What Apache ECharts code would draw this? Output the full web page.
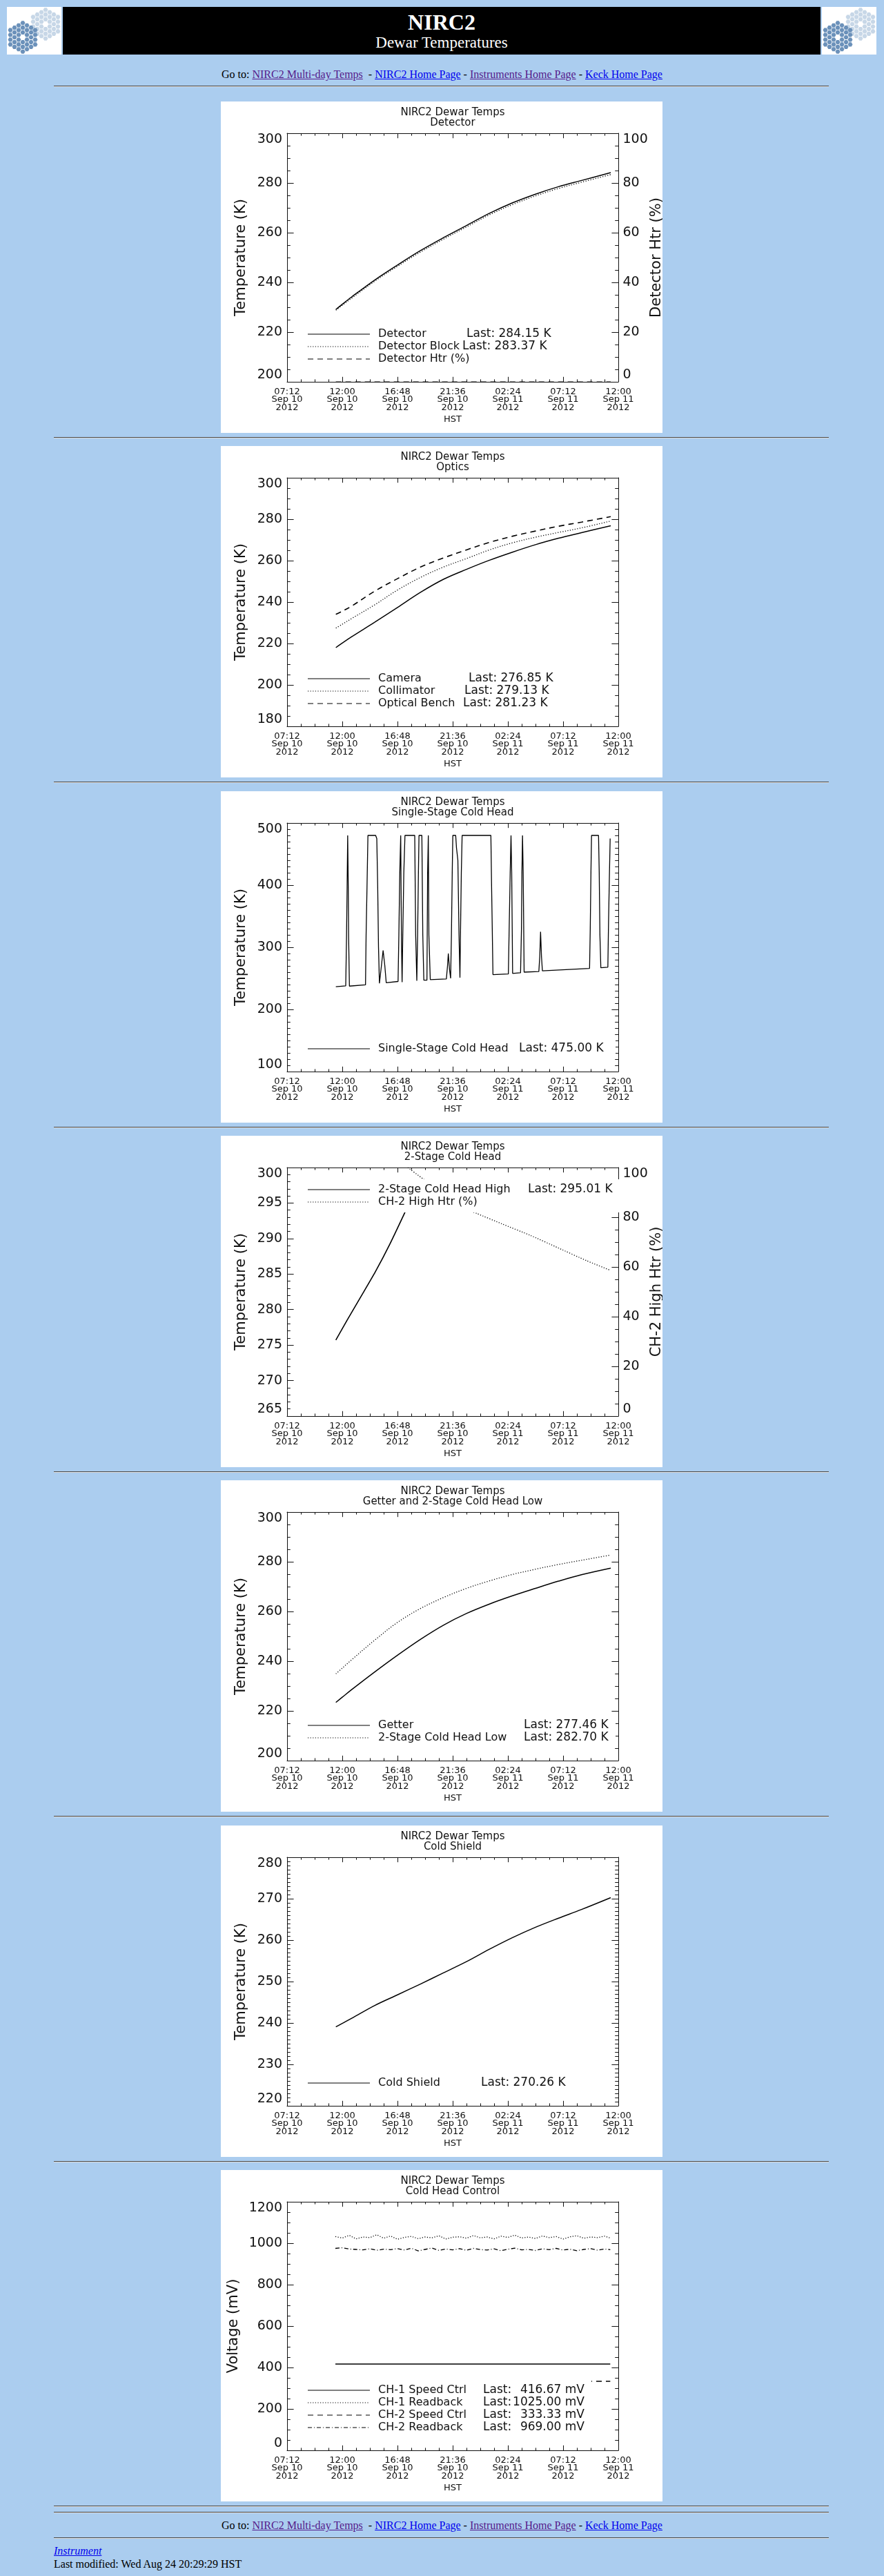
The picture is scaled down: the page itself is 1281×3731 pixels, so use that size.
<!DOCTYPE html>
<html>
<head>
<meta charset="utf-8">
<title>NIRC2 Dewar Temperatures</title>
<script src="https://cdn.jsdelivr.net/npm/echarts@6/dist/echarts.min.js"></script>
<style>
html,body{margin:0;padding:0;background:#abcdef;}
#page{position:relative;width:1281px;height:3731px;overflow:hidden;background:#abcdef;font-family:"Liberation Serif","Times New Roman",serif;color:#000;}
.logo{position:absolute;top:10px;width:79px;height:69px;background:#fff;}
.banner{position:absolute;left:91px;top:10px;width:1098px;height:69px;background:#000;color:#fff;text-align:center;}
.banner .t1{position:absolute;left:0;right:0;top:4px;font-size:32px;line-height:36px;font-weight:bold;}
.banner .t2{position:absolute;left:0;right:0;top:38px;font-size:23px;line-height:28px;}
.hr{position:absolute;left:78px;width:1123px;height:0;border-top:1px solid #4a4a4a;border-bottom:1px solid #dcdcdc;}
.nav{position:absolute;left:0;width:1281px;text-align:center;font-size:16px;line-height:20px;white-space:pre;}
.foot{position:absolute;left:78px;font-size:16px;line-height:20px;white-space:pre;}
a{text-decoration:underline;}
a.v{color:#551a8b;}
a.u{color:#0000ee;}
.panel{position:absolute;left:320px;width:640px;height:480px;background:#fff;}
</style>
</head>
<body>
<div id="page">
  <div class="logo" style="left:10px"><svg id="logoL" width="79" height="69"></svg></div>
  <div class="banner"><div class="t1">NIRC2</div><div class="t2">Dewar Temperatures</div></div>
  <div class="logo" style="left:1191px"><svg id="logoR" width="79" height="69"></svg></div>

  <div class="nav" style="top:98px">Go to: <a class="v" href="#">NIRC2 Multi-day Temps</a>  - <a class="u" href="#">NIRC2 Home Page</a> - <a class="v" href="#">Instruments Home Page</a> - <a class="u" href="#">Keck Home Page</a></div>
  <div class="hr" style="top:124px"></div>

  <div class="panel" id="p0" style="top:147px"></div>
  <div class="hr" style="top:633px"></div>
  <div class="panel" id="p1" style="top:646px"></div>
  <div class="hr" style="top:1132px"></div>
  <div class="panel" id="p2" style="top:1146px"></div>
  <div class="hr" style="top:1632px"></div>
  <div class="panel" id="p3" style="top:1645px"></div>
  <div class="hr" style="top:2131px"></div>
  <div class="panel" id="p4" style="top:2144px"></div>
  <div class="hr" style="top:2630px"></div>
  <div class="panel" id="p5" style="top:2644px"></div>
  <div class="hr" style="top:3130px"></div>
  <div class="panel" id="p6" style="top:3143px"></div>
  <div class="hr" style="top:3629px"></div>
  <div class="hr" style="top:3638px"></div>

  <div class="nav" style="top:3648px">Go to: <a class="v" href="#">NIRC2 Multi-day Temps</a>  - <a class="u" href="#">NIRC2 Home Page</a> - <a class="v" href="#">Instruments Home Page</a> - <a class="u" href="#">Keck Home Page</a></div>
  <div class="hr" style="top:3675px"></div>
  <div class="foot" style="top:3685px"><a class="u" href="#"><i>Instrument</i></a></div>
  <div class="foot" style="top:3704px">Last modified: Wed Aug 24 20:29:29 HST</div>
</div>

<script>
// ---------------- DATA ----------------
// x values are hours since 07:12 HST, Sep 10 2012
const X_TICK_LABELS = [
  '07:12\nSep 10\n2012', '12:00\nSep 10\n2012', '16:48\nSep 10\n2012',
  '21:36\nSep 10\n2012', '02:24\nSep 11\n2012', '07:12\nSep 11\n2012',
  '12:00\nSep 11\n2012'
];
const X_AXIS_TITLE = 'HST';
const MAIN_TITLE = 'NIRC2 Dewar Temps';

const CURVE_HOURS = [4.24, 4.8, 5.6, 7.6, 9.6, 11.6, 13.6, 15.6, 17.6, 19.6, 21.6, 23.6, 25.6, 28.14];

// Detector
const DETECTOR       = [229.1, 231.2, 234.1, 240.9, 247.0, 252.8, 258.0, 262.9, 267.8, 272.0, 275.5, 278.5, 281.0, 284.15];
const DETECTOR_BLOCK = [228.8, 230.8, 233.6, 240.4, 246.5, 252.2, 257.4, 262.3, 267.2, 271.3, 274.8, 277.8, 280.3, 283.37];
const DETECTOR_HTR   = [0, 0, 0, 0, 0, 0, 0, 0, 0, 0, 0, 0, 0, 0];

// Optics
const CAMERA        = [218.0, 220.2, 223.2, 230.2, 237.4, 244.7, 251.0, 255.8, 260.2, 264.1, 267.7, 270.8, 273.5, 276.85];
const COLLIMATOR    = [227.4, 229.3, 232.0, 238.6, 245.8, 251.9, 256.9, 261.0, 265.2, 268.6, 271.3, 273.6, 275.8, 279.13];
const OPTICAL_BENCH = [234.1, 235.6, 238.0, 245.2, 251.3, 256.9, 261.3, 265.2, 268.8, 271.8, 274.3, 276.6, 278.6, 281.23];

// Single-stage cold head
const SINGLE_HOURS = [4.24, 5.10, 5.17, 5.22, 5.27, 5.32, 5.35, 5.42, 6.82, 6.87, 6.95, 7.03, 7.70, 7.80, 7.88, 7.95, 8.03, 8.20, 8.35, 8.50, 8.62,
  9.65, 9.72, 9.80, 9.88, 9.94, 10.00, 10.06, 10.15, 10.25, 11.10, 11.18, 11.28, 11.35, 11.42, 11.47, 11.72, 11.80, 11.89,
  12.16, 12.22, 12.28, 12.33, 12.45, 13.85, 13.95, 14.02, 14.12, 14.22, 14.29, 14.36, 14.41, 14.66, 14.73, 14.85, 14.95, 15.03,
  15.07, 15.15, 15.22, 17.72, 17.78, 17.84, 17.90, 19.24, 19.31, 19.40, 19.47, 19.53, 19.61, 20.30, 20.38, 20.42, 20.47, 20.53, 20.61,
  21.89, 21.97, 22.04, 22.12, 22.20, 26.30, 26.36, 26.42, 26.47, 27.08, 27.14, 27.20, 27.28, 27.89, 27.95, 28.02, 28.09];
const SINGLE_TEMP = [236.5, 238, 318, 397, 480, 397, 318, 237.5, 239.5, 318, 397, 480, 480, 475, 397, 300, 242, 270, 295, 270, 243,
  245, 320, 420, 480, 320, 244, 320, 420, 480, 480, 320, 246, 320, 420, 480, 480, 320, 247,
  247, 420, 480, 320, 248, 249, 270, 290, 265, 250, 320, 420, 480, 480, 460, 440, 320, 251,
  310, 420, 480, 480, 400, 330, 256, 257, 330, 420, 480, 420, 258, 259, 330, 420, 480, 420, 260,
  261, 285, 325, 285, 262, 266, 330, 420, 480, 480, 420, 320, 267, 268, 340, 410, 475];

// 2-stage cold head (high)
const CH2_HIGH_HOURS = [4.24, 5.22, 6.45, 7.67, 8.90, 10.25];
const CH2_HIGH       = [275.7, 278.5, 281.9, 285.3, 289.1, 293.7];
const CH2_HTR_HOURS  = [10.49, 11.84, 13.80, 15.76, 16.50, 18.70, 21.15, 23.60, 26.05, 28.02];
const CH2_HTR        = [100, 95.4, 89.3, 82.9, 81.5, 77.3, 72.7, 67.6, 62.5, 58.8];

// Getter and 2-stage cold head low
const GETTER  = [223.4, 225.5, 228.5, 235.6, 242.4, 248.8, 254.5, 259.2, 263.0, 266.3, 269.3, 272.2, 274.8, 277.46];
const CH2_LOW = [234.9, 237.2, 240.5, 248.4, 255.6, 261.2, 265.6, 269.3, 272.3, 274.9, 277.0, 278.9, 280.6, 282.70];

// Cold shield
const COLD_SHIELD = [239.06, 239.9, 241.1, 244.2, 246.8, 249.4, 252.1, 254.8, 257.8, 260.6, 263.1, 265.3, 267.4, 270.26];

// Cold head control (mV)
const CTRL_HOURS = [4.2, 4.8, 5.4, 6.0, 6.6, 7.2, 7.8, 8.4, 9.0, 9.6, 10.2, 10.8, 11.4, 12.0, 12.6, 13.2, 13.8, 14.4, 15.0, 15.6,
  16.2, 16.8, 17.4, 18.0, 18.6, 19.2, 19.8, 20.4, 21.0, 21.6, 22.2, 22.8, 23.4, 24.0, 24.6, 25.2, 25.8, 26.4, 27.0, 27.6, 28.1];
const CH1_SPEED = [416.67, 416.67, 416.67, 416.67, 416.67, 416.67, 416.67, 416.67, 416.67, 416.67, 416.67, 416.67, 416.67, 416.67,
  416.67, 416.67, 416.67, 416.67, 416.67, 416.67, 416.67, 416.67, 416.67, 416.67, 416.67, 416.67, 416.67, 416.67, 416.67, 416.67,
  416.67, 416.67, 416.67, 416.67, 416.67, 416.67, 416.67, 416.67, 416.67, 416.67, 416.67];
const CH1_READBACK = [1032, 1025, 1038, 1021, 1030, 1027, 1041, 1024, 1035, 1019, 1028, 1033, 1022, 1030, 1026, 1036, 1020, 1029,
  1031, 1024, 1037, 1026, 1030, 1021, 1034, 1028, 1039, 1025, 1030, 1023, 1035, 1027, 1032, 1020, 1031, 1036, 1024, 1030, 1027, 1034, 1025];
const CH2_SPEED = [333.33, 333.33, 333.33, 333.33, 333.33, 333.33, 333.33, 333.33, 333.33, 333.33, 333.33, 333.33, 333.33, 333.33,
  333.33, 333.33, 333.33, 333.33, 333.33, 333.33, 333.33, 333.33, 333.33, 333.33, 333.33, 333.33, 333.33, 333.33, 333.33, 333.33,
  333.33, 333.33, 333.33, 333.33, 333.33, 333.33, 333.33, 333.33, 333.33, 333.33, 333.33];
const CH2_READBACK = [975, 978, 972, 970, 968, 973, 966, 971, 969, 974, 967, 976, 963, 970, 977, 965, 972, 968, 974, 966, 975,
  969, 967, 973, 964, 971, 976, 968, 970, 965, 973, 969, 975, 967, 971, 964, 970, 974, 966, 972, 969];

// ---------------- STYLE ----------------
const FONT = 'DejaVu Sans';
const INK = '#111';
const LINE = '#000';
const DASH = { solid: 'solid', dotted: [1.2, 2.4], dashed: [8, 6], dashdot: [6, 3, 1, 3] };
const GRID = { left: 96, top: 46, width: 480, height: 360 };

function pairs(h, v) { return h.map((x, i) => [x, v[i]]); }

function xAxisCfg(position) {
  const showLab = position === 'bottom';
  return {
    type: 'value', position: position, min: 0, max: 28.8, interval: 4.8,
    axisLine: { show: true, onZero: false, lineStyle: { color: INK, width: 1 } },
    axisTick: { show: true, inside: true, length: 7.2, lineStyle: { color: INK, width: 1 } },
    minorTick: { show: true, splitNumber: 4, length: 3.6, lineStyle: { color: INK, width: 1 } },
    splitLine: { show: false }, minorSplitLine: { show: false },
    axisLabel: {
      show: showLab, margin: 8.5, fontSize: 13, lineHeight: 11.7, fontFamily: FONT, color: INK,
      showMinLabel: true, showMaxLabel: true,
      formatter: v => X_TICK_LABELS[Math.round(v / 4.8)] || ''
    },
    name: showLab ? X_AXIS_TITLE : '', nameLocation: 'middle', nameGap: 48, nameMoveOverlap: false,
    nameTextStyle: { fontSize: 13, fontFamily: FONT, color: INK }
  };
}

function yAxisCfg(position, a, showLabels) {
  return {
    type: 'value', position: position, min: a.min, max: a.max, interval: a.interval,
    axisLine: { show: true, onZero: false, lineStyle: { color: INK, width: 1 } },
    axisTick: { show: true, inside: true, length: 9.6, lineStyle: { color: INK, width: 1 } },
    minorTick: { show: true, splitNumber: a.minor, length: 4.8, lineStyle: { color: INK, width: 1 } },
    splitLine: { show: false }, minorSplitLine: { show: false },
    axisLabel: {
      show: showLabels, margin: position === 'left' ? 7 : 6.5, fontSize: 19, fontFamily: FONT, color: INK,
      showMinLabel: true, showMaxLabel: true,
      formatter: v => String(Math.round(v)),
      verticalAlignMaxLabel: 'top', verticalAlignMinLabel: 'bottom'
    },
    name: showLabels ? (a.name || '') : '', nameLocation: 'middle', nameGap: a.gap || 56, nameMoveOverlap: false,
    nameTextStyle: { fontSize: 21, fontFamily: FONT, color: INK }
  };
}

function txt(text, x, y, size, align) {
  return {
    type: 'text', z: 102,
    style: {
      text: text, x: x, y: y, font: size + 'px "' + FONT + '"', fill: INK,
      align: align || 'left', verticalAlign: 'middle', textAlign: align || 'left', textVerticalAlign: 'middle'
    }
  };
}

function legendGraphics(leg) {
  const els = [];
  const n = leg.rows.length;
  els.push({ type: 'rect', z: 100, shape: { x: 122, y: leg.firstRow - 15, width: leg.right - 122, height: (n - 1) * 18 + 30 },
    style: { fill: '#fff' } });
  leg.rows.forEach((row, i) => {
    const y = leg.firstRow + i * 18;
    els.push({ type: 'line', z: 101, shape: { x1: 126, y1: y, x2: 216, y2: y },
      style: { stroke: LINE, lineWidth: 1.2, lineDash: row.dash === 'solid' ? null : DASH[row.dash] } });
    row.parts.forEach(p => els.push(txt(p[0], p[1], y, p[3] || 16, p[2] || 'left')));
  });
  return els;
}

function renderPanel(idx, cfg) {
  const el = document.getElementById('p' + idx);
  const chart = echarts.init(el, null, { renderer: 'canvas', width: 640, height: 480 });
  const yAxes = [yAxisCfg('left', cfg.left, true)];
  if (cfg.right) yAxes.push(yAxisCfg('right', cfg.right, true));
  else yAxes.push(yAxisCfg('right', cfg.left, false));
  const series = cfg.series.map(s => ({
    type: 'line', xAxisIndex: 0, yAxisIndex: s.axis || 0,
    data: pairs(s.h, s.v), showSymbol: false, symbol: 'none', smooth: s.smooth || false,
    lineStyle: { color: s.color || LINE, width: s.width || (s.dash === 'solid' ? 1.5 : 1.3), type: DASH[s.dash] },
    silent: true, animation: false, z: 3
  }));
  const graphic = [
    txt(MAIN_TITLE, 336, 16, 15, 'center'),
    txt(cfg.subtitle, 336, 31, 15, 'center')
  ].concat(legendGraphics(cfg.legend));
  chart.setOption({
    animation: false,
    backgroundColor: '#fff',
    textStyle: { fontFamily: FONT },
    grid: Object.assign({ containLabel: false, outerBoundsMode: 'none' }, GRID),
    xAxis: [xAxisCfg('bottom'), xAxisCfg('top')],
    yAxis: yAxes,
    series: series,
    graphic: { elements: graphic }
  });
}

const PANELS = [
  {
    subtitle: 'Detector',
    left: { min: 200, max: 300, interval: 20, minor: 4, name: 'Temperature (K)', gap: 56 },
    right: { min: 0, max: 100, interval: 20, minor: 4, name: 'Detector Htr (%)', gap: 45 },
    series: [
      { h: CURVE_HOURS, v: DETECTOR_HTR, dash: 'dashed', axis: 1, width: 1, color: INK },
      { h: CURVE_HOURS, v: DETECTOR_BLOCK, dash: 'dotted', smooth: 0.35 },
      { h: CURVE_HOURS, v: DETECTOR, dash: 'solid', smooth: 0.35 }
    ],
    legend: { firstRow: 337, right: 492, rows: [
      { dash: 'solid', parts: [['Detector', 228], ['Last: 284.15 K', 356, 'left', 17]] },
      { dash: 'dotted', parts: [['Detector Block', 228], ['Last: 283.37 K', 350, 'left', 17]] },
      { dash: 'dashed', parts: [['Detector Htr (%)', 228]] }
    ] }
  },
  {
    subtitle: 'Optics',
    left: { min: 180, max: 300, interval: 20, minor: 4, name: 'Temperature (K)', gap: 56 },
    series: [
      { h: CURVE_HOURS, v: CAMERA, dash: 'solid', smooth: 0.35 },
      { h: CURVE_HOURS, v: COLLIMATOR, dash: 'dotted', smooth: 0.35 },
      { h: CURVE_HOURS, v: OPTICAL_BENCH, dash: 'dashed', smooth: 0.35, width: 1.6 }
    ],
    legend: { firstRow: 337, right: 492, rows: [
      { dash: 'solid', parts: [['Camera', 228], ['Last: 276.85 K', 359, 'left', 17]] },
      { dash: 'dotted', parts: [['Collimator', 228], ['Last: 279.13 K', 353, 'left', 17]] },
      { dash: 'dashed', parts: [['Optical Bench', 228], ['Last: 281.23 K', 351, 'left', 17]] }
    ] }
  },
  {
    subtitle: 'Single-Stage Cold Head',
    left: { min: 100, max: 500, interval: 100, minor: 10, name: 'Temperature (K)', gap: 56 },
    series: [
      { h: SINGLE_HOURS, v: SINGLE_TEMP, dash: 'solid', width: 1.3 }
    ],
    legend: { firstRow: 373, right: 572, rows: [
      { dash: 'solid', parts: [['Single-Stage Cold Head', 228], ['Last: 475.00 K', 432, 'left', 17]] }
    ] }
  },
  {
    subtitle: '2-Stage Cold Head',
    left: { min: 265, max: 300, interval: 5, minor: 5, name: 'Temperature (K)', gap: 56 },
    right: { min: 0, max: 100, interval: 20, minor: 4, name: 'CH-2 High Htr (%)', gap: 45 },
    series: [
      { h: CH2_HIGH_HOURS, v: CH2_HIGH, dash: 'solid', smooth: 0.2, width: 1.6 },
      { h: CH2_HTR_HOURS, v: CH2_HTR, dash: 'dotted', axis: 1, smooth: 0.2 }
    ],
    legend: { firstRow: 78, right: 580, rows: [
      { dash: 'solid', parts: [['2-Stage Cold Head High', 228], ['Last: 295.01 K', 445, 'left', 17]] },
      { dash: 'dotted', parts: [['CH-2 High Htr (%)', 228]] }
    ] }
  },
  {
    subtitle: 'Getter and 2-Stage Cold Head Low',
    left: { min: 200, max: 300, interval: 20, minor: 4, name: 'Temperature (K)', gap: 56 },
    series: [
      { h: CURVE_HOURS, v: GETTER, dash: 'solid', smooth: 0.35 },
      { h: CURVE_HOURS, v: CH2_LOW, dash: 'dotted', smooth: 0.35 }
    ],
    legend: { firstRow: 355, right: 572, rows: [
      { dash: 'solid', parts: [['Getter', 228], ['Last: 277.46 K', 439, 'left', 17]] },
      { dash: 'dotted', parts: [['2-Stage Cold Head Low', 228], ['Last: 282.70 K', 439, 'left', 17]] }
    ] }
  },
  {
    subtitle: 'Cold Shield',
    left: { min: 220, max: 280, interval: 10, minor: 10, name: 'Temperature (K)', gap: 56 },
    series: [
      { h: CURVE_HOURS, v: COLD_SHIELD, dash: 'solid', smooth: 0.35 }
    ],
    legend: { firstRow: 373, right: 508, rows: [
      { dash: 'solid', parts: [['Cold Shield', 228], ['Last: 270.26 K', 377, 'left', 17]] }
    ] }
  },
  {
    subtitle: 'Cold Head Control',
    left: { min: 0, max: 1200, interval: 200, minor: 4, name: 'Voltage (mV)', gap: 67 },
    series: [
      { h: CTRL_HOURS, v: CH1_SPEED, dash: 'solid', width: 1.3 },
      { h: CTRL_HOURS, v: CH1_READBACK, dash: 'dotted' },
      { h: CTRL_HOURS, v: CH2_SPEED, dash: 'dashed', width: 1.3 },
      { h: CTRL_HOURS, v: CH2_READBACK, dash: 'dashdot', width: 1.3 }
    ],
    legend: { firstRow: 319, right: 537, rows: [
      { dash: 'solid', parts: [['CH-1 Speed Ctrl', 228], ['Last:', 380, 'left', 17], ['416.67 mV', 527, 'right', 17]] },
      { dash: 'dotted', parts: [['CH-1 Readback', 228], ['Last:', 380, 'left', 17], ['1025.00 mV', 527, 'right', 17]] },
      { dash: 'dashed', parts: [['CH-2 Speed Ctrl', 228], ['Last:', 380, 'left', 17], ['333.33 mV', 527, 'right', 17]] },
      { dash: 'dashdot', parts: [['CH-2 Readback', 228], ['Last:', 380, 'left', 17], ['969.00 mV', 527, 'right', 17]] }
    ] }
  }
];

PANELS.forEach((cfg, i) => renderPanel(i, cfg));

// ---------------- header logos (segmented-mirror emblem) ----------------
function drawLogo(id) {
  const svg = document.getElementById(id);
  const NS = 'http://www.w3.org/2000/svg';
  function array(cx, cy, color) {
    for (let q = -3; q <= 3; q++) {
      for (let r = -3; r <= 3; r++) {
        const s = -q - r;
        if (Math.max(Math.abs(q), Math.abs(r), Math.abs(s)) > 3 || (q === 0 && r === 0)) continue;
        const x = cx + 6 * q, y = cy + 6.93 * (r + q / 2);
        const pts = [];
        for (let k = 0; k < 6; k++) {
          const a = Math.PI / 3 * k;
          pts.push((x + 3.5 * Math.cos(a)).toFixed(2) + ',' + (y + 3.5 * Math.sin(a)).toFixed(2));
        }
        const p = document.createElementNS(NS, 'polygon');
        p.setAttribute('points', pts.join(' '));
        p.setAttribute('fill', color);
        svg.appendChild(p);
      }
    }
  }
  array(56, 25, '#c7d7e7');
  array(23, 44, '#6b91ba');
}
drawLogo('logoL');
drawLogo('logoR');
</script>
</body>
</html>
